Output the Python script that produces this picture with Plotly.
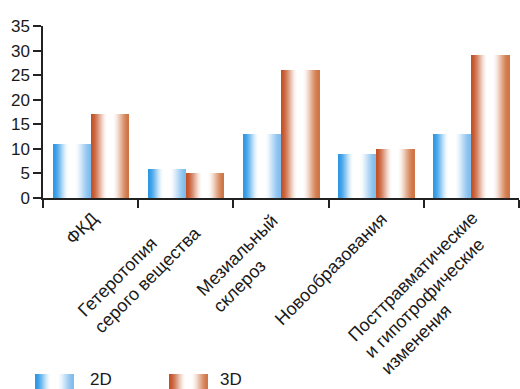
import plotly.graph_objects as go

# --- data ---------------------------------------------------------------
categories = ["ФКД", "Гетеротопия", "Мезиальный", "Новообразования", "Посттравматические"]
category_labels = [
    "ФКД",
    "Гетеротопия<br>серого вещества",
    "Мезиальный<br>склероз",
    "Новообразования",
    "Посттравматические<br>и гипотрофические<br>изменения",
]
values_2d = [11, 6, 13, 9, 13]
values_3d = [17, 5, 26, 10, 29]
series_names = ["2D", "3D"]
y_ticks = [0, 5, 10, 15, 20, 25, 30, 35]

# --- canvas geometry ------------------------------------------------------
W, H = 520, 389
ML, MR, MT, MB = 43, 1, 26, 191
PW, PH = W - ML - MR, H - MT - MB

FONT = "Liberation Sans, Arial, sans-serif"
TEXT = "#1a1a1a"
AXIS = "#222222"


def px_x(px):
    return (px - ML) / PW


def px_y(py):
    return (H - MB - py) / PH


# horizontal gradients (position across bar, rgb)
GRAD_2D = [(0.0, (44, 152, 230)), (0.42, (255, 255, 255)), (0.56, (255, 255, 255)), (1.0, (128, 188, 238))]
GRAD_3D = [(0.0, (196, 82, 38)), (0.44, (255, 255, 255)), (0.56, (255, 255, 255)), (1.0, (208, 118, 70))]


def grad_color(stops, t):
    for (t0, c0), (t1, c1) in zip(stops, stops[1:]):
        if t <= t1:
            f = 0 if t1 == t0 else (t - t0) / (t1 - t0)
            f = f * f * (3 - 2 * f)  # smooth easing between stops
            return "rgb(%d,%d,%d)" % tuple(round(a + (b - a) * f) for a, b in zip(c0, c1))
    return "rgb(%d,%d,%d)" % stops[-1][1]


BAR_W = 0.4
N_STRIPS = 38

fig = go.Figure()

# each bar is built from overlaid strips: strip i runs from its own left
# edge to the bar's right edge, so later strips cover the rest without seams
for values, stops, start in ((values_2d, GRAD_2D, -BAR_W), (values_3d, GRAD_3D, 0.0)):
    sw = BAR_W / N_STRIPS
    for i in range(N_STRIPS):
        t = (i + 0.5) / N_STRIPS
        fig.add_trace(go.Bar(
            x=categories, y=values,
            width=BAR_W - i * sw, offset=start + i * sw,
            marker=dict(color=grad_color(stops, t), line=dict(width=0)),
            showlegend=False, hoverinfo="skip",
        ))

# rotated, left-aligned category labels (centres in pixels)
label_centres = [(81.5, 229), (139, 271), (245, 263), (331, 269), (429, 293)]
annotations = []
for text, (cx, cy) in zip(category_labels, label_centres):
    annotations.append(dict(
        text=text, x=px_x(cx), y=px_y(cy), xref="paper", yref="paper",
        xanchor="center", yanchor="middle", align="left", textangle=-45,
        showarrow=False, font=dict(family=FONT, size=18, color=TEXT),
    ))

# legend drawn as gradient swatches plus labels
shapes = []
legend_items = [(series_names[0], GRAD_2D, 35, 89), (series_names[1], GRAD_3D, 169, 219)]
for name, stops, sx, tx in legend_items:
    n = 39
    sw_px = 39 / n
    for i in range(n):
        t = (i + 0.5) / n
        shapes.append(dict(
            type="rect", xref="paper", yref="paper",
            x0=px_x(sx + i * sw_px), x1=px_x(sx + 39),
            y0=px_y(374), y1=px_y(392),
            fillcolor=grad_color(stops, t), line=dict(width=0), layer="above",
        ))
    annotations.append(dict(
        text=name, x=px_x(tx), y=px_y(379.5), xref="paper", yref="paper",
        xanchor="left", yanchor="middle", showarrow=False, borderpad=0,
        font=dict(family=FONT, size=17, color=TEXT),
    ))

fig.update_layout(
    width=W, height=H,
    margin=dict(l=ML, r=MR, t=MT, b=MB, pad=0),
    paper_bgcolor="white", plot_bgcolor="white",
    barmode="overlay", bargap=0,
    showlegend=False,
    font=dict(family=FONT, size=17, color=TEXT),
    shapes=shapes, annotations=annotations,
    xaxis=dict(
        type="category", range=[-0.5, 4.5], showticklabels=False,
        showline=True, linecolor=AXIS, linewidth=2,
        ticks="outside", tickson="boundaries", ticklen=8, tickwidth=1.5, tickcolor=AXIS,
        showgrid=False, zeroline=False, fixedrange=True,
    ),
    yaxis=dict(
        range=[0, 35], tickvals=y_ticks, ticktext=[str(v) for v in y_ticks],
        showline=True, linecolor=AXIS, linewidth=1.5,
        ticks="outside", ticklen=8, tickwidth=1.5, tickcolor=AXIS,
        tickfont=dict(family=FONT, size=17, color=TEXT),
        showgrid=False, zeroline=False, fixedrange=True,
    ),
)

fig.write_html("out.html")
